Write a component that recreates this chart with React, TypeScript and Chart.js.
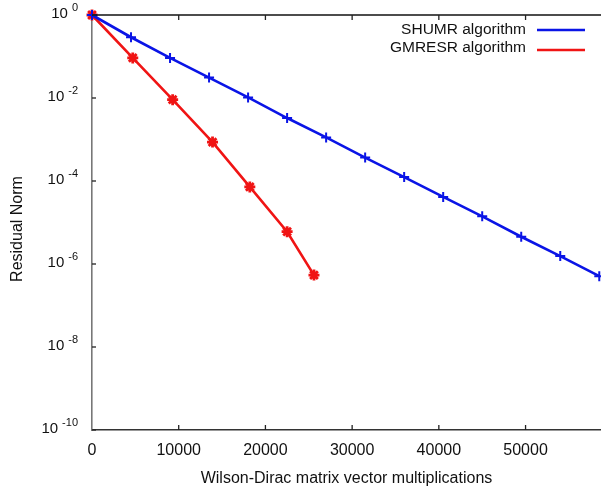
import React, { useEffect, useRef } from "react";
import { Chart, registerables } from "chart.js";

Chart.register(...registerables);

// ---- data ----
const shumrX = [0, 4500, 9000, 13500, 18000, 22500, 27000, 31500, 36000, 40500, 45000, 49500, 54000, 58500];
const shumrY = [1, 0.291, 0.0925, 0.031, 0.01035, 3.29e-3, 1.12e-3, 3.67e-4, 1.24e-4, 4.13e-5, 1.41e-5, 4.54e-6, 1.55e-6, 5.1e-7];
const gmresrX = [0, 4700, 9300, 13900, 18200, 22500, 25600];
const gmresrY = [1, 0.0925, 0.0091, 8.65e-4, 7.2e-5, 6.0e-6, 5.4e-7];
const xTickValues = [0, 10000, 20000, 30000, 40000, 50000];
const yTickExponents = [0, -2, -4, -6, -8, -10];
const seriesNames = ["SHUMR algorithm", "GMRESR algorithm"];
const seriesColors = ["#0a14e6", "#f01414"];
const xTitle = "Wilson-Dirac matrix vector multiplications";
const yTitle = "Residual Norm";

const FONT = "'Liberation Sans', Arial, sans-serif";

const decor = {
  id: "decor",
  afterDraw(chart: any) {
    const ctx = chart.ctx as CanvasRenderingContext2D;
    const area = chart.chartArea;
    const xs = chart.scales.x;
    const ys = chart.scales.y;
    ctx.save();
    // top border
    ctx.strokeStyle = "#111";
    ctx.lineWidth = 1.6;
    ctx.beginPath();
    ctx.moveTo(area.left, area.top);
    ctx.lineTo(area.right, area.top);
    ctx.stroke();
    // inward ticks
    ctx.lineWidth = 1.3;
    ctx.strokeStyle = "#222";
    xTickValues.forEach((v) => {
      const px = xs.getPixelForValue(v);
      if (v === 0) return;
      ctx.beginPath();
      ctx.moveTo(px, area.bottom);
      ctx.lineTo(px, area.bottom - 5);
      ctx.moveTo(px, area.top);
      ctx.lineTo(px, area.top + 5);
      ctx.stroke();
    });
    yTickExponents.forEach((e) => {
      const py = ys.getPixelForValue(Math.pow(10, e));
      ctx.beginPath();
      ctx.moveTo(area.left, py);
      ctx.lineTo(area.left + 4, py);
      ctx.stroke();
    });
    // y tick labels with superscript exponents
    ctx.fillStyle = "#111";
    ctx.textBaseline = "middle";
    yTickExponents.forEach((e) => {
      const py = ys.getPixelForValue(Math.pow(10, e));
      const expText = e === 0 ? "0" : "-" + String(-e);
      ctx.font = `11px ${FONT}`;
      ctx.textAlign = "right";
      const expRight = area.left - 14;
      ctx.fillText(expText, expRight, py - 7);
      const expW = ctx.measureText(expText).width;
      ctx.font = `15px ${FONT}`;
      ctx.fillText("10", expRight - expW - 4, py - 1);
    });
    // axis titles
    ctx.font = `16px ${FONT}`;
    ctx.textAlign = "center";
    ctx.fillText(xTitle, (area.left + area.right) / 2, 479);
    ctx.save();
    ctx.translate(17.5, 229);
    ctx.rotate(-Math.PI / 2);
    ctx.fillText(yTitle, 0, 0);
    ctx.restore();
    // legend
    const rows = [30, 48];
    const lineRows = [30, 50];
    seriesNames.forEach((name, i) => {
      ctx.font = `15.5px ${FONT}`;
      ctx.textAlign = "right";
      ctx.fillStyle = "#111";
      ctx.fillText(name, 526, rows[i]);
      ctx.strokeStyle = seriesColors[i];
      ctx.lineWidth = 2.5;
      ctx.beginPath();
      ctx.moveTo(537, lineRows[i]);
      ctx.lineTo(585, lineRows[i]);
      ctx.stroke();
    });
    ctx.restore();
  },
};

export default function App() {
  const ref = useRef<HTMLCanvasElement | null>(null);
  useEffect(() => {
    if (!ref.current) return;
    const chart = new Chart(ref.current, {
      type: "line",
      data: {
        datasets: [
          {
            label: seriesNames[0],
            data: shumrX.map((x, i) => ({ x, y: shumrY[i] })),
            borderColor: seriesColors[0],
            backgroundColor: seriesColors[0],
            borderWidth: 2.6,
            pointStyle: "cross",
            pointRadius: 5,
            pointBorderWidth: 2,
            tension: 0,
            clip: false as any,
          },
          {
            label: seriesNames[1],
            data: gmresrX.map((x, i) => ({ x, y: gmresrY[i] })),
            borderColor: seriesColors[1],
            backgroundColor: seriesColors[1],
            borderWidth: 2.6,
            pointStyle: "star",
            pointRadius: 5.5,
            pointBorderWidth: 2.8,
            tension: 0,
            clip: false as any,
          },
        ],
      },
      options: {
        animation: false,
        responsive: false,
        devicePixelRatio: 1,
        layout: { autoPadding: false, padding: { top: 15, left: 0, right: 0, bottom: 0 } },
        plugins: {
          legend: { display: false },
          tooltip: { enabled: false },
        },
        scales: {
          x: {
            type: "linear",
            min: 0,
            max: 58700,
            grid: { display: false, drawTicks: false },
            border: { display: true, color: "#333", width: 1.5 },
            ticks: {
              padding: 11,
              color: "#111",
              font: { family: FONT, size: 16 },
              callback: (v: any) => String(v),
            },
            afterBuildTicks: (scale: any) => {
              scale.ticks = xTickValues.map((v) => ({ value: v }));
            },
            afterFit: (scale: any) => {
              scale.height = 66;
              scale.paddingLeft = 0;
              scale.paddingRight = 0;
            },
          },
          y: {
            type: "logarithmic",
            min: 1e-10,
            max: 1,
            grid: { display: false, drawTicks: false },
            border: { display: true, color: "#777", width: 1.6 },
            ticks: { display: false },
            afterBuildTicks: (scale: any) => {
              scale.ticks = yTickExponents.map((e) => ({ value: Math.pow(10, e) }));
            },
            afterFit: (scale: any) => {
              scale.width = 92;
              scale.paddingTop = 0;
              scale.paddingBottom = 0;
            },
          },
        },
      },
      plugins: [decor],
    });
    return () => chart.destroy();
  }, []);
  return (
    <div style={{ position: "fixed", left: 0, top: 0, width: 601, height: 496, background: "#fff" }}>
      <canvas ref={ref} width={601} height={496} style={{ display: "block" }} />
    </div>
  );
}
